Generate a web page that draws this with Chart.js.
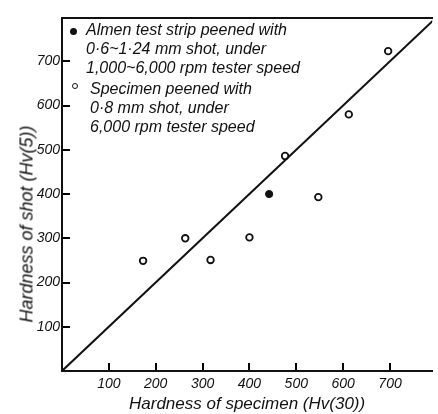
<!DOCTYPE html>
<html>
<head>
<meta charset="utf-8">
<script src="https://cdn.jsdelivr.net/npm/chart.js@4/dist/chart.umd.min.js"></script>
<style>
  html, body { margin: 0; padding: 0; background: #fff; }
  #wrap { position: relative; width: 438px; height: 414px; overflow: hidden; }
  canvas { position: absolute; left: 0; top: 0; }
  .lg { position: absolute; font: italic 16px "Liberation Sans", Arial, sans-serif; line-height: 19px; color: #111; white-space: nowrap; }
  .dot { position: absolute; border-radius: 50%; box-sizing: border-box; }
  #ytitle { position: absolute; font: italic 18px "Liberation Sans", Arial, sans-serif; color: #111; white-space: nowrap;
            left: 27px; top: 224px; transform: translate(-50%, -50%) rotate(-90deg); }
</style>
</head>
<body>
<div id="wrap">
  <canvas id="c" width="438" height="414"></canvas>
  <div class="dot" style="left:70px;top:28px;width:7px;height:7px;background:#111;"></div>
  <div class="lg" style="left:86px;top:20px;">Almen test strip peened with<br>0·6~1·24 mm shot, under<br>1,000~6,000 rpm tester speed</div>
  <div class="dot" style="left:72px;top:83px;width:6px;height:6px;border:1.5px solid #111;"></div>
  <div class="lg" style="left:90px;top:79px;">Specimen peened with<br>0·8 mm shot, under<br>6,000 rpm tester speed</div>
  <div id="ytitle">Hardness of shot (Hv(5))</div>
</div>
<script>
// ---- data ----
const almenX = [442];
const almenY = [400];
const specimenX = [173, 263, 317, 400, 476, 547, 612, 696];
const specimenY = [249, 300, 251, 302, 486, 393, 580, 723];
const diagonalX = [0, 800];
const diagonalY = [0, 800];
const xTicks = [100, 200, 300, 400, 500, 600, 700];
const yTicks = [100, 200, 300, 400, 500, 600, 700];
const xTitle = 'Hardness of specimen (Hv(30))';

const toPts = (xs, ys) => xs.map((x, i) => ({ x: x, y: ys[i] }));

const tickFont = { family: '"Liberation Sans", Arial, sans-serif', style: 'italic', size: 14 };

new Chart(document.getElementById('c'), {
  type: 'scatter',
  data: {
    datasets: [
      {
        type: 'line',
        data: toPts(diagonalX, diagonalY),
        borderColor: '#111',
        borderWidth: 2,
        pointRadius: 0,
        fill: false,
        clip: 0
      },
      {
        data: toPts(almenX, almenY),
        pointRadius: 3.6,
        backgroundColor: '#111',
        borderColor: '#111',
        borderWidth: 1
      },
      {
        data: toPts(specimenX, specimenY),
        pointRadius: 3.3,
        backgroundColor: '#fff',
        borderColor: '#111',
        borderWidth: 1.8
      }
    ]
  },
  options: {
    responsive: false,
    animation: false,
    events: [],
    layout: { padding: { top: 8, right: 1, left: 0, bottom: 0 } },
    plugins: { legend: { display: false }, tooltip: { enabled: false } },
    scales: {
      x: {
        type: 'linear', position: 'bottom', min: 0, max: 790,
        afterFit: s => { s.height = 43; },
        afterBuildTicks: s => { s.ticks = xTicks.map(v => ({ value: v })); },
        grid: { drawOnChartArea: false, tickLength: -8, color: '#000', lineWidth: 2 },
        border: { color: '#111', width: 2 },
        ticks: { padding: 13, font: tickFont, color: '#111', maxRotation: 0, autoSkip: false },
        title: { display: true, text: xTitle, color: '#111',
                 font: { family: '"Liberation Sans", Arial, sans-serif', style: 'italic', size: 17 },
                 padding: { top: 0, bottom: 0 } }
      },
      xTop: {
        type: 'linear', position: 'top', min: 0, max: 790,
        afterFit: s => { s.height = 0; },
        grid: { drawOnChartArea: false, drawTicks: false },
        border: { color: '#111', width: 2 },
        ticks: { display: false }
      },
      y: {
        type: 'linear', position: 'left', min: 0, max: 797,
        afterFit: s => { s.width = 62; },
        afterBuildTicks: s => { s.ticks = yTicks.map(v => ({ value: v })); },
        grid: { drawOnChartArea: false, tickLength: -8, color: '#000', lineWidth: 2 },
        border: { color: '#111', width: 2 },
        ticks: { padding: 10, font: tickFont, color: '#111', autoSkip: false }
      }
    }
  }
});
</script>
</body>
</html>
